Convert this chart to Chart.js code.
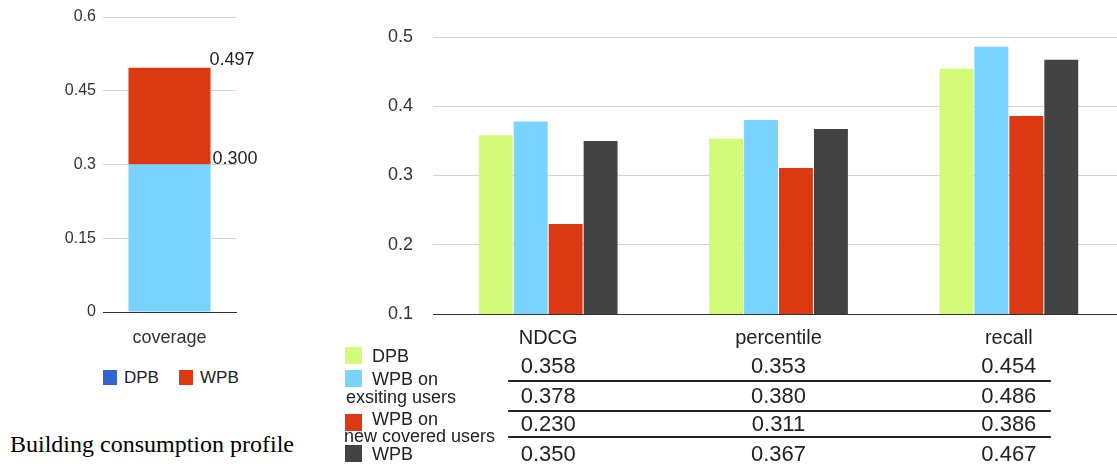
<!DOCTYPE html>
<html>
<head>
<meta charset="utf-8">
<script src="https://cdn.jsdelivr.net/npm/chart.js"></script>
<style>
  html, body { margin: 0; padding: 0; background: #fff; overflow: hidden; }
  body { width: 1117px; height: 466px; position: relative; }
  #leftBox { position: absolute; left: 0; top: 0; width: 270px; height: 360px; }
  #rightBox { position: absolute; left: 330px; top: 0; width: 800px; height: 466px; }
  #leftLegend { position: absolute; left: 103px; top: 368px; font: 17px "Liberation Sans", Arial, sans-serif; color: #222; }
  #leftLegend span.item { position: absolute; white-space: nowrap; }
  #leftLegend i { display: inline-block; width: 14px; height: 15px; vertical-align: -2px; margin-right: 7px; }
  #caption { position: absolute; left: 10px; top: 431px; font: 24px "Liberation Serif", "Times New Roman", serif; color: #000; white-space: nowrap; }
</style>
</head>
<body>
<div id="leftBox"><canvas id="coverageChart"></canvas></div>
<div id="leftLegend"></div>
<div id="rightBox"><canvas id="metricChart"></canvas></div>
<div id="caption">Building consumption profile</div>

<script>
  /*** datos ***/
  const coverageLabels = ['coverage'];
  const coverageDPB = [0.300];
  const coverageWPB = [0.497];
  const coverageStep = 0.15;
  const coverageLegend = ['DPB', 'WPB'];

  const metricLabels = ['NDCG', 'percentile', 'recall'];
  const dpb = [0.358, 0.353, 0.454];
  const wpbExisting = [0.378, 0.380, 0.486];
  const wpbNew = [0.230, 0.311, 0.386];
  const wpb = [0.350, 0.367, 0.467];
  const metricStep = 0.1;
  const seriesNames = [['DPB'], ['WPB on', 'exsiting users'], ['WPB on', 'new covered users'], ['WPB']];

  const GREEN = '#d4fa7a', LBLUE = '#78d4fe', RED = '#dc3912', DARK = '#434343', BLUE = '#3366cc';
  const FONT = '"Liberation Sans", Arial, sans-serif';

  /*** leyenda de la grafica de cobertura ***/
  const legendColors = [BLUE, RED];
  const legendX = [0, 76];
  coverageLegend.forEach((name, i) => {
    const s = document.createElement('span');
    s.className = 'item';
    s.style.left = legendX[i] + 'px';
    s.innerHTML = `<i style="background:${legendColors[i]}"></i>${name}`;
    document.getElementById('leftLegend').appendChild(s);
  });

  /*** etiquetas de valor sobre la barra apilada ***/
  const barValueLabels = {
    id: 'barValueLabels',
    afterDatasetsDraw(chart) {
      const ctx = chart.ctx;
      ctx.save();
      ctx.font = '18px ' + FONT;
      ctx.fillStyle = '#222';
      ctx.textAlign = 'left';
      ctx.textBaseline = 'alphabetic';
      chart.data.datasets.forEach((ds, d) => {
        chart.getDatasetMeta(d).data.forEach((bar, i) => {
          const v = Array.isArray(ds.data[i]) ? ds.data[i][1] : ds.data[i];
          ctx.fillText(v.toFixed(3), bar.x + bar.width / 2 + (d === 0 ? 2 : -1), bar.y - (d === 0 ? 1 : 3));
        });
      });
      ctx.restore();
    }
  };

  new Chart(document.getElementById('coverageChart'), {
    type: 'bar',
    data: {
      labels: coverageLabels,
      datasets: [{
        label: coverageLegend[0],
        data: coverageDPB,
        backgroundColor: LBLUE
      }, {
        label: coverageLegend[1],
        data: coverageDPB.map((v, i) => [v, coverageWPB[i]]),
        backgroundColor: RED
      }]
    },
    options: {
      responsive: true,
      maintainAspectRatio: false,
      animation: false,
      layout: { padding: { left: 0, right: 34, top: 17, bottom: 0 } },
      plugins: { legend: { display: false }, tooltip: { enabled: false } },
      datasets: { bar: { categoryPercentage: 0.617, barPercentage: 1 } },
      scales: {
        x: {
          stacked: true,
          grid: { display: false, drawTicks: false },
          border: { display: true, color: '#333', width: 1 },
          ticks: { color: '#333', font: { family: FONT, size: 18 }, padding: 15 },
          afterFit: s => { s.height = 48; }
        },
        y: {
          min: 0, max: 0.6,
          grid: { color: '#d3d3d3', drawTicks: false },
          border: { display: false },
          ticks: {
            stepSize: coverageStep,
            color: '#333',
            font: { family: FONT, size: 16 },
            padding: 7,
            callback: v => String(Math.round(v * 100) / 100)
          },
          afterFit: s => { s.width = 103; }
        }
      }
    },
    plugins: [barValueLabels]
  });

  /*** tabla de datos bajo la grafica, alineada a las categorias ***/
  const dataTable = {
    id: 'dataTable',
    afterDraw(chart) {
      const ctx = chart.ctx;
      const x = chart.scales.x;
      const rows = [367, 397, 425, 455];
      const squares = [347, 370, 414, 445];
      const textLines = [[357], [380, 398], [420, 437], [455]];
      const textX = [[42], [42, 16], [42, 14], [42]];
      ctx.save();
      chart.data.datasets.forEach((ds, r) => {
        ctx.fillStyle = ds.backgroundColor;
        ctx.fillRect(15, squares[r], 17, 17);
        ctx.fillStyle = '#222';
        ctx.font = '18px ' + FONT;
        ctx.textAlign = 'left';
        ctx.textBaseline = 'middle';
        seriesNames[r].forEach((t, k) => ctx.fillText(t, textX[r][k], textLines[r][k]));
        ctx.font = '22px ' + FONT;
        ctx.textAlign = 'center';
        ds.data.forEach((v, i) => ctx.fillText(v.toFixed(3), x.getPixelForValue(i), rows[r]));
      });
      ctx.strokeStyle = '#222';
      ctx.lineWidth = 2;
      [381, 411, 437].forEach(y => {
        ctx.beginPath();
        ctx.moveTo(x.getPixelForValue(0) - 40, y);
        ctx.lineTo(x.getPixelForValue(2) + 42, y);
        ctx.stroke();
      });
      ctx.restore();
    }
  };

  new Chart(document.getElementById('metricChart'), {
    type: 'bar',
    data: {
      labels: metricLabels,
      datasets: [
        { label: 'DPB', data: dpb, backgroundColor: GREEN },
        { label: 'WPB on exsiting users', data: wpbExisting, backgroundColor: LBLUE },
        { label: 'WPB on new covered users', data: wpbNew, backgroundColor: RED },
        { label: 'WPB', data: wpb, backgroundColor: DARK }
      ]
    },
    options: {
      responsive: true,
      maintainAspectRatio: false,
      animation: false,
      layout: { padding: { left: 0, right: 6, top: 37, bottom: 0 } },
      plugins: { legend: { display: false }, tooltip: { enabled: false } },
      datasets: { bar: { categoryPercentage: 0.607, barPercentage: 0.97 } },
      scales: {
        x: {
          grid: { display: false, drawTicks: false },
          border: { display: true, color: '#333', width: 1 },
          ticks: { color: '#222', font: { family: FONT, size: 20 }, padding: 12 },
          afterFit: s => { s.height = 152; }
        },
        y: {
          min: 0.1, max: 0.5,
          grid: { color: '#d3d3d3', drawTicks: false },
          border: { display: false },
          ticks: { stepSize: metricStep, color: '#333', font: { family: FONT, size: 18 }, padding: 20, callback: v => v.toFixed(1) },
          afterFit: s => { s.width = 103; }
        }
      }
    },
    plugins: [dataTable]
  });
</script>
</body>
</html>
